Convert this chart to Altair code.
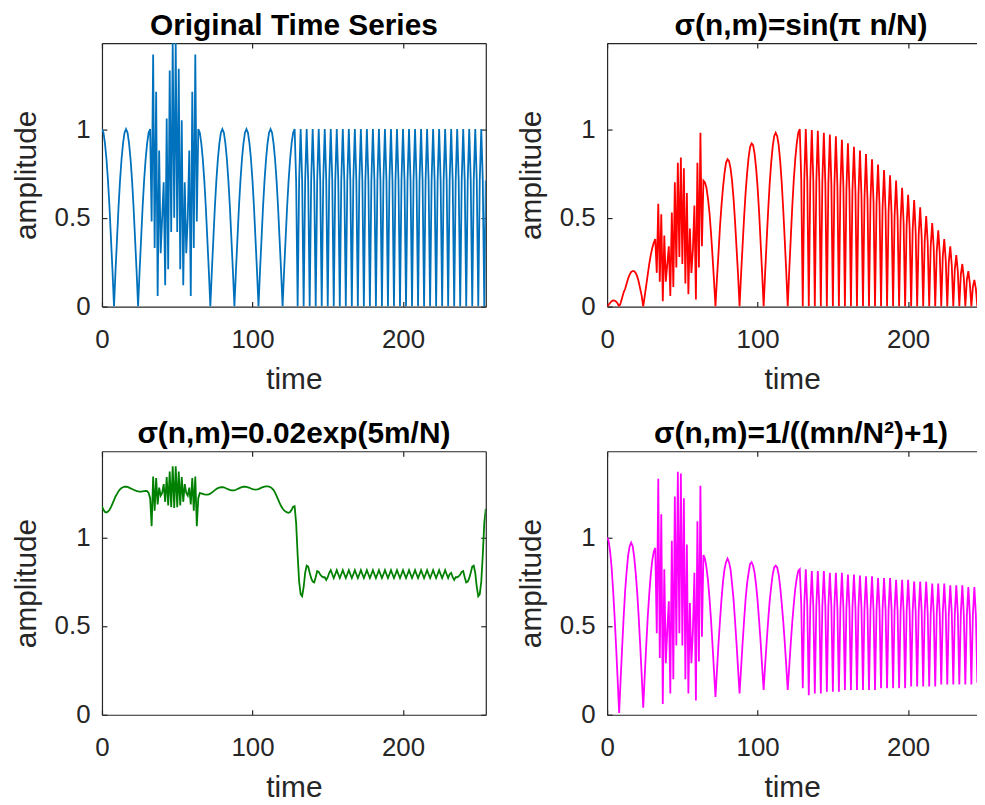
import altair as alt
import pandas as pd

time = list(range(256))

original = [
    1.00, 0.98, 0.92, 0.83, 0.71, 0.56, 0.38, 0.20, 0.00, 0.20, 0.38, 0.56, 0.71, 0.83, 0.92, 0.98,
    1.00, 0.98, 0.92, 0.83, 0.71, 0.56, 0.38, 0.20, 0.00, 0.20, 0.38, 0.56, 0.71, 0.83, 0.92, 0.98,
    1.00, 0.48, 1.42, 0.33, 1.21, 0.06, 0.88, 0.30, 0.50, 0.70, 0.12, 1.06, 0.21, 1.33, 0.42, 1.485,
    0.50, 1.485, 0.42, 1.34, 0.21, 1.05, 0.12, 0.70, 0.30, 0.50, 0.88, 0.06, 1.21, 0.33, 1.42, 0.48,
    1.00, 0.98, 0.92, 0.83, 0.71, 0.56, 0.38, 0.20, 0.00, 0.20, 0.38, 0.56, 0.71, 0.83, 0.92, 0.98,
    1.00, 0.98, 0.92, 0.83, 0.71, 0.56, 0.38, 0.20, 0.00, 0.20, 0.38, 0.56, 0.71, 0.83, 0.92, 0.98,
    1.00, 0.98, 0.92, 0.83, 0.71, 0.56, 0.38, 0.20, 0.00, 0.20, 0.38, 0.56, 0.71, 0.83, 0.92, 0.98,
    1.00, 0.98, 0.92, 0.83, 0.71, 0.56, 0.38, 0.20, 0.00, 0.20, 0.38, 0.56, 0.71, 0.83, 0.92, 0.98,
    1.00, 0.71, 0.00, 0.71, 1.00, 0.71, 0.00, 0.71, 1.00, 0.71, 0.00, 0.71, 1.00, 0.71, 0.00, 0.71,
    1.00, 0.71, 0.00, 0.71, 1.00, 0.71, 0.00, 0.71, 1.00, 0.71, 0.00, 0.71, 1.00, 0.71, 0.00, 0.71,
    1.00, 0.71, 0.00, 0.71, 1.00, 0.71, 0.00, 0.71, 1.00, 0.71, 0.00, 0.71, 1.00, 0.71, 0.00, 0.71,
    1.00, 0.71, 0.00, 0.71, 1.00, 0.71, 0.00, 0.71, 1.00, 0.71, 0.00, 0.71, 1.00, 0.71, 0.00, 0.71,
    1.00, 0.71, 0.00, 0.71, 1.00, 0.71, 0.00, 0.71, 1.00, 0.71, 0.00, 0.71, 1.00, 0.71, 0.00, 0.71,
    1.00, 0.71, 0.00, 0.71, 1.00, 0.71, 0.00, 0.71, 1.00, 0.71, 0.00, 0.71, 1.00, 0.71, 0.00, 0.71,
    1.00, 0.71, 0.00, 0.71, 1.00, 0.71, 0.00, 0.71, 1.00, 0.71, 0.00, 0.71, 1.00, 0.71, 0.00, 0.71,
    1.00, 0.71, 0.00, 0.71, 1.00, 0.71, 0.00, 0.71, 1.00, 0.71, 0.00, 0.71, 1.00, 0.71, 0.00, 0.71,
]

sine_window = [
    0.00, 0.01, 0.02, 0.03, 0.035, 0.034, 0.028, 0.017, 0.00, 0.02, 0.05, 0.08, 0.10, 0.13, 0.16, 0.18,
    0.195, 0.20, 0.20, 0.19, 0.17, 0.14, 0.10, 0.06, 0.00, 0.06, 0.12, 0.18, 0.24, 0.29, 0.33, 0.36,
    0.38, 0.19, 0.58, 0.14, 0.52, 0.03, 0.40, 0.14, 0.24, 0.34, 0.06, 0.53, 0.11, 0.70, 0.22, 0.81,
    0.28, 0.84, 0.24, 0.78, 0.13, 0.64, 0.07, 0.44, 0.19, 0.32, 0.57, 0.04, 0.81, 0.22, 0.98, 0.34,
    0.71, 0.70, 0.67, 0.61, 0.53, 0.42, 0.29, 0.15, 0.00, 0.16, 0.30, 0.45, 0.57, 0.67, 0.75, 0.81,
    0.83, 0.82, 0.78, 0.71, 0.61, 0.48, 0.33, 0.18, 0.00, 0.18, 0.34, 0.50, 0.64, 0.75, 0.84, 0.90,
    0.92, 0.91, 0.86, 0.78, 0.67, 0.53, 0.36, 0.19, 0.00, 0.19, 0.37, 0.54, 0.69, 0.81, 0.90, 0.96,
    0.98, 0.96, 0.91, 0.82, 0.70, 0.55, 0.38, 0.20, 0.00, 0.20, 0.38, 0.56, 0.71, 0.83, 0.92, 0.98,
    1.00, 0.71, 0.00, 0.71, 1.00, 0.71, 0.00, 0.71, 0.995, 0.71, 0.00, 0.70, 0.99, 0.70, 0.00, 0.70,
    0.98, 0.69, 0.00, 0.69, 0.97, 0.69, 0.00, 0.68, 0.96, 0.68, 0.00, 0.67, 0.94, 0.67, 0.00, 0.66,
    0.92, 0.65, 0.00, 0.65, 0.90, 0.64, 0.00, 0.63, 0.88, 0.62, 0.00, 0.61, 0.86, 0.60, 0.00, 0.60,
    0.83, 0.59, 0.00, 0.58, 0.80, 0.57, 0.00, 0.55, 0.77, 0.54, 0.00, 0.53, 0.74, 0.52, 0.00, 0.51,
    0.71, 0.50, 0.00, 0.48, 0.67, 0.47, 0.00, 0.46, 0.63, 0.44, 0.00, 0.43, 0.60, 0.42, 0.00, 0.40,
    0.56, 0.39, 0.00, 0.37, 0.51, 0.36, 0.00, 0.34, 0.47, 0.33, 0.00, 0.31, 0.43, 0.30, 0.00, 0.28,
    0.38, 0.26, 0.00, 0.25, 0.34, 0.23, 0.00, 0.21, 0.29, 0.20, 0.00, 0.18, 0.24, 0.16, 0.00, 0.15,
    0.20, 0.13, 0.00, 0.11, 0.15, 0.10, 0.00, 0.08, 0.10, 0.06, 0.00, 0.04, 0.05, 0.03, 0.00, 0.01,
]

exp_window = [
    1.175, 1.155, 1.143, 1.140, 1.145, 1.155, 1.170, 1.190, 1.210, 1.230, 1.245, 1.260, 1.270, 1.278, 1.282, 1.285,
    1.285, 1.284, 1.280, 1.276, 1.272, 1.268, 1.264, 1.261, 1.259, 1.258, 1.258, 1.259, 1.260, 1.261, 1.260, 1.250,
    1.220, 1.063, 1.343, 1.150, 1.334, 1.185, 1.280, 1.235, 1.250, 1.300, 1.200, 1.340, 1.180, 1.370, 1.170, 1.400,
    1.165, 1.400, 1.170, 1.370, 1.180, 1.340, 1.200, 1.300, 1.250, 1.235, 1.280, 1.185, 1.334, 1.150, 1.343, 1.063,
    1.220, 1.250, 1.248, 1.245, 1.242, 1.240, 1.240, 1.242, 1.246, 1.252, 1.259, 1.266, 1.272, 1.277, 1.280, 1.282,
    1.282, 1.281, 1.278, 1.274, 1.270, 1.267, 1.265, 1.264, 1.265, 1.268, 1.272, 1.276, 1.280, 1.283, 1.285, 1.285,
    1.284, 1.282, 1.279, 1.275, 1.272, 1.270, 1.269, 1.270, 1.272, 1.276, 1.280, 1.283, 1.286, 1.287, 1.287, 1.285,
    1.282, 1.276, 1.266, 1.252, 1.234, 1.214, 1.194, 1.176, 1.162, 1.152, 1.145, 1.140, 1.138, 1.142, 1.155, 1.172,
    1.175, 1.080, 0.900, 0.750, 0.680, 0.668, 0.720, 0.800, 0.840, 0.835, 0.800, 0.770, 0.750, 0.746, 0.775, 0.810,
    0.805, 0.790, 0.780, 0.775, 0.775, 0.760, 0.775, 0.800,
    0.815, 0.792, 0.770, 0.792, 0.815, 0.792, 0.770, 0.792,
    0.815, 0.792, 0.770, 0.792, 0.815, 0.792, 0.770, 0.792, 0.815, 0.792, 0.770, 0.792, 0.815, 0.792, 0.770, 0.792,
    0.815, 0.792, 0.770, 0.792, 0.815, 0.792, 0.770, 0.792, 0.815, 0.792, 0.770, 0.792, 0.815, 0.792, 0.770, 0.792,
    0.815, 0.792, 0.770, 0.792, 0.815, 0.792, 0.770, 0.792, 0.815, 0.792, 0.770, 0.792, 0.815, 0.792, 0.770, 0.792,
    0.815, 0.792, 0.770, 0.792, 0.815, 0.792, 0.770, 0.792, 0.815, 0.792, 0.770, 0.792, 0.815, 0.792, 0.770, 0.792,
    0.815, 0.792, 0.770, 0.792, 0.815, 0.792, 0.770, 0.792,
    0.800, 0.775, 0.760, 0.775, 0.775, 0.780, 0.790, 0.805, 0.810, 0.775, 0.746, 0.750, 0.770, 0.800, 0.835, 0.840,
    0.800, 0.720, 0.668, 0.680, 0.750, 0.900, 1.080, 1.160,
]

hyper_window = [
    1.00, 0.98, 0.92, 0.83, 0.70, 0.55, 0.38, 0.20, 0.01, 0.20, 0.38, 0.55, 0.70, 0.81, 0.90, 0.95,
    0.97, 0.95, 0.89, 0.80, 0.69, 0.55, 0.39, 0.22, 0.04, 0.22, 0.39, 0.55, 0.68, 0.79, 0.87, 0.92,
    0.94, 0.46, 1.33, 0.32, 1.13, 0.06, 0.82, 0.29, 0.48, 0.64, 0.12, 0.98, 0.20, 1.23, 0.39, 1.37,
    0.46, 1.36, 0.39, 1.22, 0.20, 0.96, 0.12, 0.63, 0.29, 0.47, 0.80, 0.08, 1.09, 0.30, 1.29, 0.44,
    0.90, 0.88, 0.83, 0.76, 0.66, 0.54, 0.40, 0.25, 0.10, 0.25, 0.40, 0.53, 0.65, 0.75, 0.82, 0.86,
    0.88, 0.86, 0.82, 0.74, 0.65, 0.53, 0.40, 0.26, 0.12, 0.26, 0.40, 0.53, 0.65, 0.74, 0.80, 0.85,
    0.86, 0.84, 0.80, 0.73, 0.64, 0.53, 0.41, 0.27, 0.14, 0.28, 0.41, 0.53, 0.64, 0.72, 0.79, 0.83,
    0.84, 0.83, 0.79, 0.72, 0.63, 0.53, 0.41, 0.28, 0.14, 0.27, 0.40, 0.52, 0.62, 0.71, 0.77, 0.81,
    0.82, 0.62, 0.15, 0.62, 0.82, 0.61, 0.11, 0.61, 0.81, 0.61, 0.12, 0.61, 0.81, 0.61, 0.12, 0.61,
    0.81, 0.61, 0.13, 0.61, 0.80, 0.61, 0.13, 0.61, 0.80, 0.60, 0.13, 0.60, 0.80, 0.60, 0.14, 0.60,
    0.79, 0.60, 0.14, 0.60, 0.79, 0.60, 0.14, 0.60, 0.785, 0.60, 0.14, 0.60, 0.78, 0.59, 0.14, 0.59,
    0.78, 0.59, 0.14, 0.59, 0.77, 0.59, 0.15, 0.59, 0.77, 0.59, 0.15, 0.59, 0.77, 0.59, 0.15, 0.59,
    0.76, 0.58, 0.15, 0.58, 0.76, 0.58, 0.15, 0.58, 0.76, 0.58, 0.16, 0.58, 0.75, 0.58, 0.16, 0.58,
    0.75, 0.58, 0.16, 0.58, 0.75, 0.57, 0.16, 0.57, 0.74, 0.57, 0.16, 0.57, 0.74, 0.57, 0.17, 0.57,
    0.74, 0.57, 0.17, 0.57, 0.73, 0.57, 0.17, 0.57, 0.73, 0.57, 0.17, 0.57, 0.73, 0.56, 0.17, 0.56,
    0.72, 0.56, 0.17, 0.56, 0.72, 0.56, 0.18, 0.56, 0.72, 0.56, 0.18, 0.56, 0.71, 0.56, 0.18, 0.56,
]

titles = [
    "Original Time Series",
    "σ(n,m)=sin(π n/N)",
    "σ(n,m)=0.02exp(5m/N)",
    "σ(n,m)=1/((mn/N²)+1)",
]
colors = ["#0072BD", "#FF0000", "#008000", "#FF00FF"]
x_ticks = [0, 100, 200]
y_ticks = [0, 0.5, 1]
x_max = 255
y_max = 1.485

H = 265
W_LEFT = 386
W_RIGHT = 372
PX_PER_UNIT = W_LEFT / x_max
FONT = "Liberation Sans"
AX = "#262626"


def panel(series, color, title, width, right_col):
    df = pd.DataFrame({"time": time, "amplitude": series})
    xs = alt.Scale(domain=[0, width / PX_PER_UNIT], nice=False, zero=False)
    ys = alt.Scale(domain=[0, y_max], nice=False, zero=False)
    base = alt.Chart(df)
    main = base.mark_line(color=color, strokeWidth=1.8, clip=True).encode(
        x=alt.X("time:Q", scale=xs, axis=alt.Axis(
            orient="bottom", values=x_ticks, format="d", title="time",
            domain=True, ticks=False, tickSize=0, grid=False,
            labelPadding=41, labelBaseline="alphabetic", labelFlush=False,
            titleY=82, titleBaseline="alphabetic")),
        y=alt.Y("amplitude:Q", scale=ys, axis=alt.Axis(
            orient="left", values=y_ticks, format="~g", title="amplitude",
            domain=True, ticks=False, tickSize=0, grid=False,
            labelPadding=12, labelBaseline="middle",
            titleX=-67, titleY=H / 2, titleBaseline="alphabetic", titleAlign="center")),
    )
    # top edge (and right edge for the left column) with inward ticks
    box = base.mark_line(strokeOpacity=0, clip=True).encode(
        x=alt.X("time:Q", scale=xs, axis=alt.Axis(
            orient="bottom", offset=-H, values=x_ticks, labels=False, title=None,
            domain=True, ticks=True, tickSize=5, grid=False)),
        y=alt.Y("amplitude:Q", scale=ys, axis=alt.Axis(
            orient="left", offset=-width, values=y_ticks, labels=False, title=None,
            domain=not right_col, ticks=not right_col, tickSize=5, grid=False)),
    )
    # inward ticks on the bottom and left edges
    inner = base.mark_line(strokeOpacity=0, clip=True).encode(
        x=alt.X("time:Q", scale=xs, axis=alt.Axis(
            orient="bottom", offset=-5, values=x_ticks, labels=False, title=None,
            domain=False, ticks=True, tickSize=5, grid=False)),
        y=alt.Y("amplitude:Q", scale=ys, axis=alt.Axis(
            orient="left", offset=-5, values=y_ticks, labels=False, title=None,
            domain=False, ticks=True, tickSize=5, grid=False)),
    )
    return alt.layer(main, box, inner).resolve_axis(
        x="independent", y="independent"
    ).properties(
        width=width, height=H,
        title=alt.TitleParams(
            text=title, font=FONT, fontSize=30, fontWeight="bold", color="black",
            offset=2, anchor="middle", frame="group",
            dx=9 if right_col else 0),
    )


tl = panel(original, colors[0], titles[0], W_LEFT, False)
tr = panel(sine_window, colors[1], titles[1], W_RIGHT, True)
bl = panel(exp_window, colors[2], titles[2], W_LEFT, False)
br = panel(hyper_window, colors[3], titles[3], W_RIGHT, True)

chart = alt.vconcat(
    alt.hconcat(tl, tr, spacing=29),
    alt.hconcat(bl, br, spacing=29),
    spacing=24.5,
).properties(
    padding={"left": 2.5, "top": 0, "right": 0, "bottom": 0},
    background="white",
).configure_view(
    strokeOpacity=0,
).configure_axis(
    domainColor=AX, domainWidth=1.2, tickColor=AX, tickWidth=1.2,
    labelColor=AX, titleColor=AX, labelFont=FONT, titleFont=FONT,
    labelFontSize=26, titleFontSize=30, titleFontWeight="normal",
)

chart.save("out.html", embed_options={"renderer": "svg", "actions": False})
